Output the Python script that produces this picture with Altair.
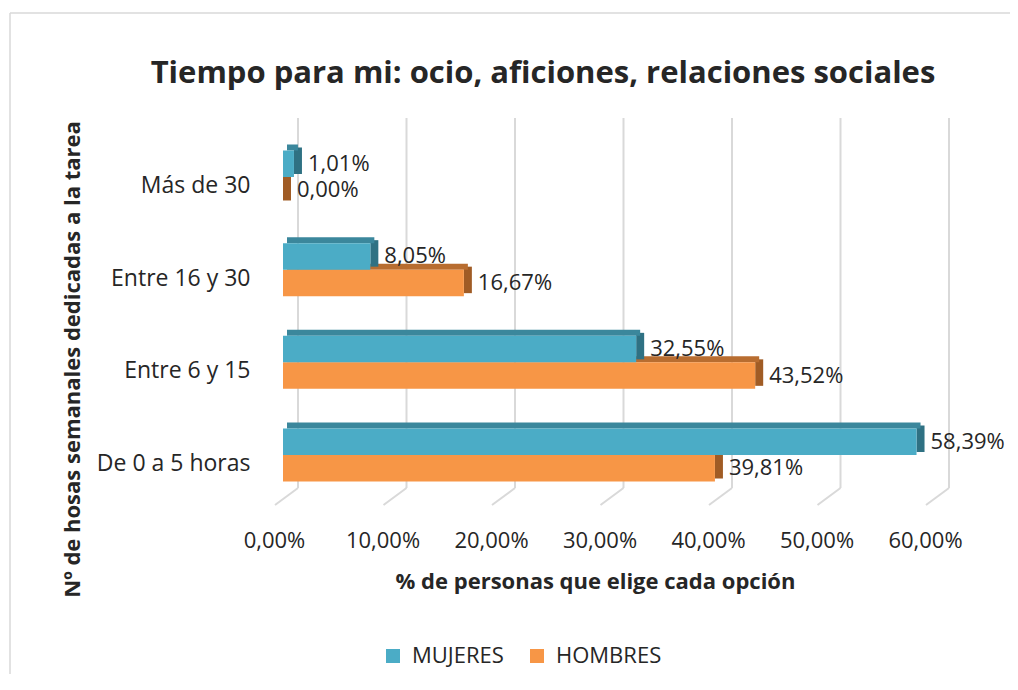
import altair as alt
import pandas as pd

# ---- data ----
categorias = ["Más de 30", "Entre 16 y 30", "Entre 6 y 15", "De 0 a 5 horas"]
mujeres = [1.01, 8.05, 32.55, 58.39]
hombres = [0.00, 16.67, 43.52, 39.81]
series = ["MUJERES", "HOMBRES"]
ticks = [0, 10, 20, 30, 40, 50, 60]

titulo = "Tiempo para mi: ocio, aficiones, relaciones sociales"
titulo_x = "% de personas que elige cada opción"
titulo_y = "Nº de hosas semanales dedicadas a la tarea"

rows = []
for c, m, h in zip(categorias, mujeres, hombres):
    rows.append({"cat": c, "serie": "MUJERES", "val": m, "cero": 0})
    rows.append({"cat": c, "serie": "HOMBRES", "val": h, "cero": 0})
df = pd.DataFrame(rows)
df_ticks = pd.DataFrame({"tick": ticks})
df_title = pd.DataFrame({"t": [titulo]})
df_one = pd.DataFrame({"k": [0]})

FONT = "Open Sans"
TXT = "#262626"
GRID = "#d9d9d9"

colores = {
    "MUJERES": {"front": "#4BACC6", "top": "#3B879C", "side": "#2F7183"},
    "HOMBRES": {"front": "#F79646", "top": "#B86D30", "side": "#A05C25"},
}
dy = {"MUJERES": -13.25, "HOMBRES": 13.25}

xscale = alt.Scale(domain=[0, 60], nice=False, zero=True)
xaxis = alt.Axis(
    values=ticks,
    labelExpr="replace(format(datum.value, '.2f'), '.', ',') + '%'",
    grid=False, domain=False, ticks=False,
    labelFont=FONT, labelFontSize=22, labelColor=TXT,
    labelPadding=16, labelOffset=-9, labelFlush=False, labelOverlap=False,
    title=titulo_x, titleFont=FONT, titleFontSize=22, titleFontWeight="bold",
    titleColor=TXT, titleX=312, titleY=67, titleAlign="center", titleBaseline="middle",
)
yscale = alt.Scale(domain=categorias, paddingInner=0, paddingOuter=0.1366)
yaxis = alt.Axis(
    domain=False, ticks=False, grid=False,
    labelFont=FONT, labelFontSize=23, labelColor=TXT,
    labelPadding=33, labelOffset=9,
    title=titulo_y, titleFont=FONT, titleFontSize=22, titleFontWeight="bold",
    titleColor=TXT, titleX=-211, titleY=241, titleAngle=270,
    titleAlign="center", titleBaseline="middle",
)

X = lambda f: alt.X(f, type="quantitative", scale=xscale, axis=xaxis)
Y = alt.Y("cat:N", scale=yscale, axis=yaxis, sort=categorias)

# outer frame (top and left edges; the others fall outside the picture)
frame_top = alt.Chart(df_one).mark_rule(color=GRID, strokeWidth=1.5).encode(
    x=alt.value(-273), x2=alt.value(1200), y=alt.value(-105)
)
frame_left = alt.Chart(df_one).mark_rule(color=GRID, strokeWidth=1.5).encode(
    x=alt.value(-273), y=alt.value(-105), y2=alt.value(900)
)

# title as text
title_mark = alt.Chart(df_title).mark_text(
    font=FONT, fontSize=31, fontWeight="bold", color=TXT, align="center", baseline="alphabetic"
).encode(text="t:N", x=alt.value(260), y=alt.value(-35))

# back gridlines and floor diagonals
grid_back = alt.Chart(df_ticks).mark_rule(color=GRID, strokeWidth=2, xOffset=15).encode(
    x=X("tick"), y=alt.value(0), y2=alt.value(370)
)
grid_floor = alt.Chart(df_ticks).mark_rule(color=GRID, strokeWidth=2, xOffset=15, x2Offset=-8).encode(
    x=X("tick"), x2="tick:Q", y=alt.value(370), y2=alt.value(387)
)

layers = [frame_top, frame_left, title_mark, grid_back, grid_floor]
color_enc = alt.Color(
    "serie:N",
    scale=alt.Scale(domain=series, range=[colores[s]["front"] for s in series]),
    legend=alt.Legend(
        orient="none", legendX=99, legendY=527, direction="horizontal", title=None,
        symbolType="square", symbolSize=196, symbolStrokeWidth=0,
        labelFont=FONT, labelFontSize=22, labelColor=TXT,
        columnPadding=22, labelOffset=8,
    ),
)

for s in ["HOMBRES", "MUJERES"]:
    base = alt.Chart(df).transform_filter(alt.datum.serie == s)
    d = dy[s]
    side = base.mark_bar(height=26.5, yOffset=d - 3, x2Offset=8, color=colores[s]["side"]).encode(
        x=X("val"), x2="val:Q", y=Y
    )
    top = base.mark_bar(height=6, yOffset=d - 16.25, xOffset=4, x2Offset=4, color=colores[s]["top"]).encode(
        x=X("val"), x2="cero:Q", y=Y
    )
    front = base.mark_bar(height=26.5, yOffset=d).encode(
        x=X("val"), x2="cero:Q", y=Y, color=color_enc
    )
    layers += [side, top, front]

for s in ["HOMBRES", "MUJERES"]:
    lab = alt.Chart(df).transform_filter(alt.datum.serie == s).transform_calculate(
        etiqueta="replace(format(datum.val, '.2f'), '.', ',') + '%'"
    ).mark_text(align="left", baseline="middle", dx=14, yOffset=dy[s],
                font=FONT, fontSize=22, color=TXT).encode(
        x=X("val"), y=Y, text="etiqueta:N"
    )
    layers.append(lab)

chart = alt.layer(*layers).properties(
    width=651, height=396,
    autosize=alt.AutoSizeParams(type="none"),
    padding={"left": 275, "top": 110, "right": 76, "bottom": 160},
    background="white",
).configure_view(stroke=None)

chart.save("out.html", embed_options={"renderer": "svg", "actions": False})
